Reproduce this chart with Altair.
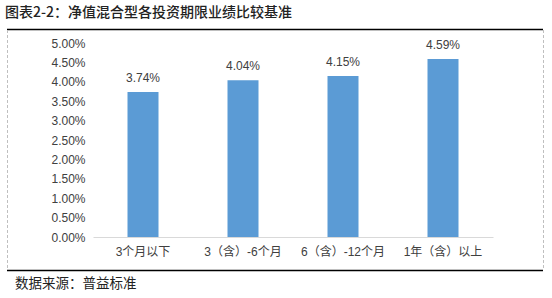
import altair as alt
import pandas as pd

categories = ["3个月以下", "3（含）-6个月", "6（含）-12个月", "1年（含）以上"]
values = [0.0374, 0.0404, 0.0415, 0.0459]
y_ticks = [0, 0.005, 0.01, 0.015, 0.02, 0.025, 0.03, 0.035, 0.04, 0.045, 0.05]
title_text = "图表2-2：净值混合型各投资期限业绩比较基准"
source_text = "数据来源：普益标准"

FONT = "Liberation Sans, Noto Sans CJK SC, sans-serif"
CJK = "Noto Sans CJK SC, sans-serif"
TXT = "#404040"

df = pd.DataFrame({"cat": categories, "val": values})
df["label"] = [f"{v*100:.2f}%" for v in values]

W, H = 400, 194

x_enc = alt.X("cat:N", sort=categories, title=None,
              scale=alt.Scale(paddingInner=0.69, paddingOuter=0.345),
              axis=alt.Axis(labelAngle=0, labelFont=FONT, labelFontSize=12, labelColor=TXT,
                            domainColor="#D9D9D9", domainWidth=1, ticks=False, labelPadding=9))
y_enc = alt.Y("val:Q", title=None,
              scale=alt.Scale(domain=[0, 0.05], nice=False),
              axis=alt.Axis(values=y_ticks, tickCount=11, format=".2%", labelFont=FONT, labelFontSize=12,
                            labelColor=TXT, domain=False, ticks=False, grid=False, labelPadding=8,
                            labelOverlap=False, labelBound=False, labelFlush=False))

bars = alt.Chart(df).mark_bar(color="#5B9BD5", size=31).encode(x=x_enc, y=y_enc)
labels = alt.Chart(df).mark_text(dy=-14, font=FONT, fontSize=12, color=TXT, baseline="middle").encode(
    x=x_enc, y=y_enc, text="label:N")

frame_df = pd.DataFrame({"k": [0]})
top_line = alt.Chart(frame_df).mark_rule(color="#000000", strokeWidth=1.5).encode(
    x=alt.value(-86), x2=alt.value(450), y=alt.value(-13.5))
bottom_line = alt.Chart(frame_df).mark_rule(color="#000000", strokeWidth=1.5).encode(
    x=alt.value(-86), x2=alt.value(450), y=alt.value(227.5))
left_dash = alt.Chart(frame_df).mark_rule(color="#BFBFBF", strokeWidth=1, strokeDash=[3, 2]).encode(
    x=alt.value(-85.5), y=alt.value(-13), y2=alt.value(227))
right_dash = alt.Chart(frame_df).mark_rule(color="#BFBFBF", strokeWidth=1, strokeDash=[3, 2]).encode(
    x=alt.value(450.5), y=alt.value(-13), y2=alt.value(227))

title = alt.Chart(frame_df).mark_text(align="left", baseline="middle", font=CJK, fontSize=14,
                                      color="#222222", fontWeight=500).encode(
    x=alt.value(-88), y=alt.value(-30), text=alt.value(title_text))
source = alt.Chart(frame_df).mark_text(align="left", baseline="middle", font=CJK, fontSize=13.5,
                                       color="#222222").encode(
    x=alt.value(-78), y=alt.value(241), text=alt.value(source_text))

chart = alt.layer(bars, labels, top_line, bottom_line, left_dash, right_dash, title, source).properties(
    width=W, height=H,
    padding={"left": 93, "top": 43, "right": 59, "bottom": 61},
    autosize=alt.AutoSizeParams(type="none"),
    background="white",
).configure_view(stroke=None)

chart.save("out.html", embed_options={"renderer": "svg", "actions": False})
